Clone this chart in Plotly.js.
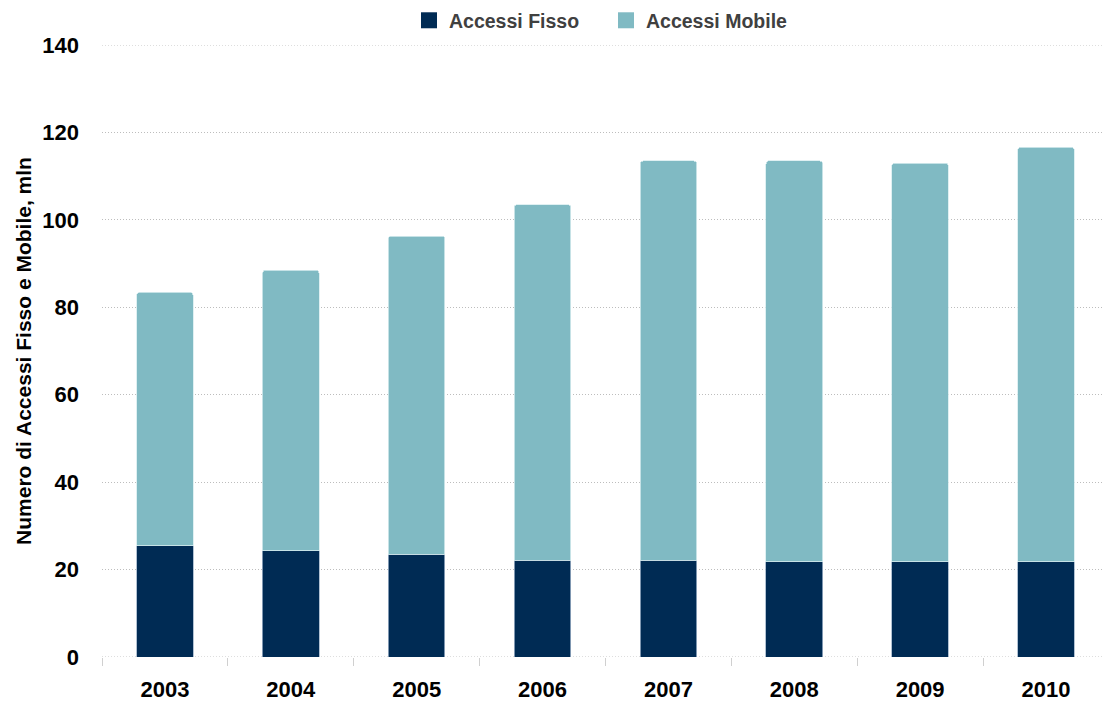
<!DOCTYPE html>
<html>
<head>
<meta charset="utf-8">
<script src="https://cdn.plot.ly/plotly-3.0.1.min.js"></script>
<style>html,body{margin:0;padding:0;background:#fff;}#chart{width:1102px;height:704px;}</style>
</head>
<body>
<div id="chart"></div>
<script>
const years = ['2003', '2004', '2005', '2006', '2007', '2008', '2009', '2010'];
const accessiFisso = [25.5, 24.3, 23.5, 22.1, 22.1, 21.8, 21.8, 21.8];
const accessiMobile = [57.9, 64.2, 72.8, 81.4, 91.4, 91.7, 91.2, 94.8];
const yTicks = [0, 20, 40, 60, 80, 100, 120, 140];
const seriesNames = ['Accessi Fisso', 'Accessi Mobile'];
const colors = ['#002B54', '#80BAC3'];

const font = {family: 'Liberation Sans, Arial, sans-serif'};
const gridColor = '#bdbdbd';
const gridDash = '1px,2px';

const traces = [
  {type: 'bar', x: years, y: accessiFisso, name: seriesNames[0], showlegend: false,
   marker: {color: colors[0], line: {color: '#9fb3c8', width: 0.8}}, width: 0.45},
  {type: 'bar', x: years, y: accessiMobile, name: seriesNames[1], showlegend: false,
   marker: {color: colors[1], line: {color: '#d7ecef', width: 0.8}}, width: 0.45},
  {type: 'scatter', mode: 'markers', x: [null], y: [null], name: seriesNames[0], showlegend: true,
   marker: {symbol: 'square', size: 16, color: colors[0]}},
  {type: 'scatter', mode: 'markers', x: [null], y: [null], name: seriesNames[1], showlegend: true,
   marker: {symbol: 'square', size: 16, color: colors[1]}}
];

const edgeLines = [yTicks[0], yTicks[yTicks.length - 1]].map(v => ({
  type: 'line', xref: 'paper', x0: 0, x1: 1, yref: 'y', y0: v, y1: v,
  line: {color: gridColor, width: 1, dash: gridDash}, layer: 'below'
}));

const layout = {
  width: 1102, height: 704,
  margin: {l: 102, r: 0, t: 45, b: 47},
  paper_bgcolor: '#ffffff', plot_bgcolor: '#ffffff',
  barmode: 'stack',
  barcornerradius: 3,
  font: {family: font.family, color: '#000'},
  showlegend: true,
  legend: {orientation: 'h', x: 0.307, xanchor: 'left', y: 1.008, yanchor: 'bottom',
           font: {family: font.family, size: 19.5, color: '#404040', weight: 'bold'},
           itemwidth: 30, entrywidth: 152, traceorder: 'normal', bgcolor: 'rgba(0,0,0,0)'},
  shapes: edgeLines,
  xaxis: {
    type: 'category', categoryorder: 'array', categoryarray: years,
    range: [-0.5, 7.445],
    ticks: 'outside', tickson: 'boundaries', ticklen: 8, tickcolor: '#d0d0d0', tickwidth: 1,
    showline: false, showgrid: false, zeroline: false,
    ticklabelstandoff: 17,
    tickfont: {family: font.family, size: 22, color: '#000', weight: 'bold'}
  },
  yaxis: {
    range: [0, 140], tickvals: yTicks, ticktext: yTicks.map(String),
    showgrid: true, gridcolor: gridColor, griddash: gridDash, gridwidth: 1,
    zeroline: false, showline: false, ticks: '',
    ticklabelstandoff: 22,
    tickfont: {family: font.family, size: 22, color: '#000', weight: 'bold'},
    title: {text: 'Numero di Accessi Fisso e Mobile, mln', standoff: 4,
            font: {family: font.family, size: 21, color: '#000', weight: 'bold'}}
  }
};

Plotly.newPlot('chart', traces, layout, {displayModeBar: false, staticPlot: true});
</script>
</body>
</html>
